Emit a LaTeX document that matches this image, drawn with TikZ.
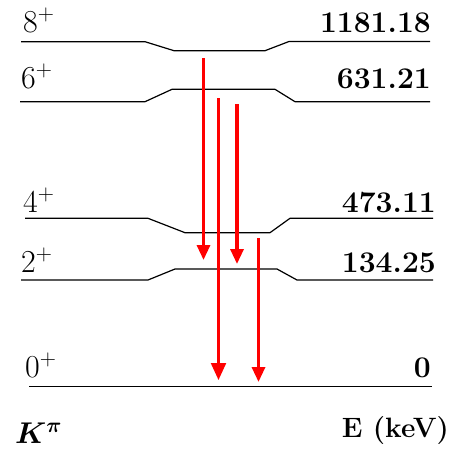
\RequirePackage{fix-cm}
\documentclass[tikz,border=0pt]{standalone}
\usepackage{bm}
\usetikzlibrary{arrows.meta}

\begin{document}
\begin{tikzpicture}[x=1pt, y=-1pt,
  lvl/.style={line width=1.2pt, line join=round},
  spin/.style={anchor=base west, inner sep=0pt, font=\fontsize{32}{38}\selectfont},
  en/.style={anchor=base east, inner sep=0pt, font=\fontsize{30}{36}\selectfont\bfseries},
  gam/.style={red, line width=3.2pt, -{Triangle[length=15pt, width=13pt]}},
  gamthin/.style={red, line width=2.2pt, -{Triangle[length=17pt, width=15pt]}}]
\useasboundingbox (0,0) rectangle (460,453);
% Levels
\draw[lvl] (21,41.7) -- (145,41.7) -- (174,50.7) -- (265,50.7) -- (289,41.5) -- (430,41.5);
\draw[lvl] (20,101.7) -- (145,101.7) -- (172,89.3) -- (275,89.3) -- (295,101.7) -- (430,101.7);
\draw[lvl] (25,218.3) -- (148,218.3) -- (185,232.7) -- (270,232.7) -- (290,218.3) -- (433,218.3);
\draw[lvl] (21,280) -- (148,280) -- (175,269) -- (277,269) -- (297,280) -- (433,280);
\draw[lvl] (29,386.7) -- (432,386.7);
% Spins and energies
\node[spin] (s8) at (23,32) {$8^+$};
\node[spin] (s6) at (21,88) {$6^+$};
\node[spin] (s4) at (23,212) {$4^+$};
\node[spin] (s2) at (21,272) {$2^+$};
\node[spin] (s0) at (25,377) {$0^+$};
\node[en] (e8) at (431,32) {1181.18};
\node[en] (e6) at (431,88) {631.21};
\node[en] (e4) at (436,212) {473.11};
\node[en] (e2) at (436,272) {134.25};
\node[en] (e0) at (431,377) {0};
\node[spin, font=\fontsize{30}{36}\selectfont] (kpi) at (15,443) {$\bm{K^{\pi}}$};
\node[en, font=\fontsize{28}{34}\selectfont\bfseries] (ekev) at (449,437) {E (keV)};
% Transitions
\coordinate (g84a) at (203.5,58);
\coordinate (g84b) at (203.5,260);
\coordinate (g60a) at (218.5,98);
\coordinate (g60b) at (218.5,380);
\coordinate (g64a) at (237,104);
\coordinate (g64b) at (237,264);
\coordinate (g20a) at (258.5,238);
\coordinate (g20b) at (258.5,382);
\draw[gam] (g84a) -- (g84b);
\draw[gamthin] (g60a) -- (g60b);
\draw[gam] (g64a) -- (g64b);
\draw[gam] (g20a) -- (g20b);
\end{tikzpicture}
\end{document}
